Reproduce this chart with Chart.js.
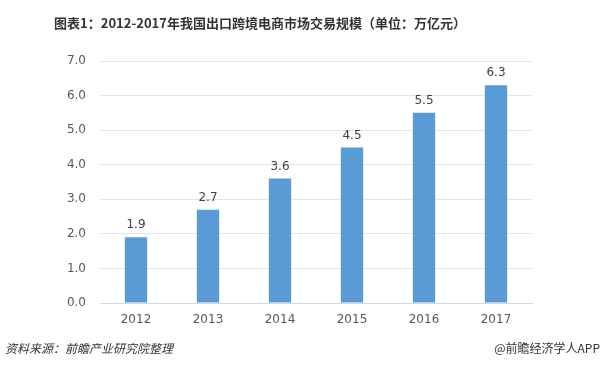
<!DOCTYPE html>
<html>
<head>
<meta charset="utf-8">
<script src="https://cdn.jsdelivr.net/npm/chart.js@4/dist/chart.umd.min.js"></script>
<style>
  html, body { margin: 0; padding: 0; background: #fff; }
  #wrap { position: relative; width: 610px; height: 366px; overflow: hidden; }
  #chart { position: absolute; left: 0; top: 0; }
  .title {
    position: absolute; left: 0; width: 520px; top: 13px; text-align: center;
    font: bold 13px "Noto Sans CJK SC", "Noto Sans", sans-serif; color: #333;
  }
  .src {
    position: absolute; left: 5px; top: 339px;
    font: italic 12px "Noto Sans CJK SC", sans-serif; color: #333;
  }
  .brand {
    position: absolute; right: 10px; top: 339px;
    font: 12px "Noto Sans CJK SC", sans-serif; color: #333;
  }
</style>
</head>
<body>
<div id="wrap">
  <canvas id="chart" width="610" height="366"></canvas>
  <div class="title">图表1：2012-2017年我国出口跨境电商市场交易规模（单位：万亿元）</div>
  <div class="src">资料来源：前瞻产业研究院整理</div>
  <div class="brand">@前瞻经济学人APP</div>
</div>
<script>
const years = ["2012", "2013", "2014", "2015", "2016", "2017"];
const tradeScale = [1.9, 2.7, 3.6, 4.5, 5.5, 6.3];
const yTicks = [0, 1, 2, 3, 4, 5, 6, 7];

// value labels above each bar
const barLabels = {
    id: "barLabels",
    afterDatasetsDraw(chart) {
        const ctx = chart.ctx;
        const meta = chart.getDatasetMeta(0);
        ctx.save();
        ctx.fillStyle = "#404040";
        ctx.font = "12px 'DejaVu Sans', sans-serif";
        ctx.textAlign = "center";
        ctx.textBaseline = "bottom";
        meta.data.forEach((bar, i) => {
            ctx.fillText(tradeScale[i].toFixed(1), bar.x, bar.y - 6);
        });
        ctx.restore();
    }
};

new Chart(document.getElementById("chart"), {
    type: "bar",
    data: {
        labels: years,
        datasets: [{
            data: tradeScale,
            backgroundColor: "#5B9BD5",
            categoryPercentage: 1,
            barPercentage: 0.31,
        }]
    },
    options: {
        responsive: false,
        animation: false,
        layout: { padding: { left: 0, right: 78, top: 61, bottom: 0 } },
        plugins: {
            legend: { display: false },
            tooltip: { enabled: false },
        },
        scales: {
            x: {
                afterFit(scale) { scale.height = 63; },
                grid: { display: false, drawTicks: false },
                border: { color: "#d9d9d9" },
                ticks: {
                    padding: 10,
                    color: "#595959",
                    font: { size: 12, family: "'DejaVu Sans', sans-serif" },
                }
            },
            y: {
                min: 0,
                max: 7,
                afterFit(scale) { scale.width = 100; },
                afterBuildTicks(scale) { scale.ticks = yTicks.map(v => ({ value: v })); },
                grid: { color: "#e3e3e3", drawTicks: false },
                border: { display: false },
                ticks: {
                    padding: 14,
                    color: "#595959",
                    font: { size: 12, family: "'DejaVu Sans', sans-serif" },
                    callback: v => v.toFixed(1),
                }
            }
        }
    },
    plugins: [barLabels]
});
</script>
</body>
</html>
